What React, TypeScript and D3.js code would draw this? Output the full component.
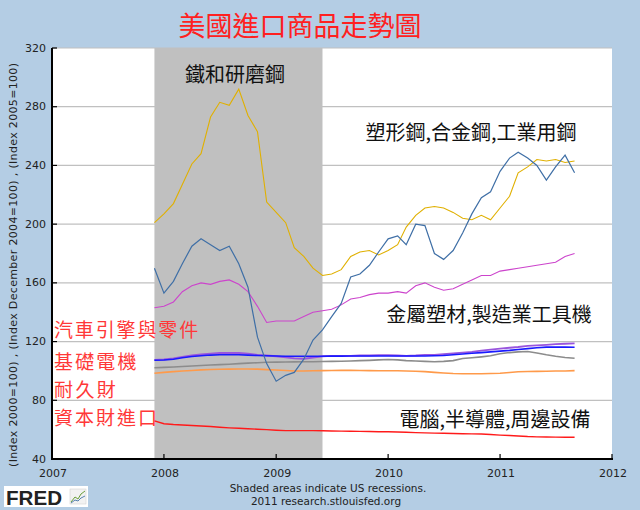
import React from "react";
import * as d3 from "d3";

// monthly observations, Dec 2007 .. Sep 2011
const startMonth = new Date(2007, 11, 1);
const endMonth = new Date(2011, 9, 1);

const ironSteel = [201,207,214,227,241,248,273,283,281,292,274,263,215,208,201,184,178,170,165,166,169,178,181,182,179,182,186,198,206,211,212,211,208,204,203,206,203,211,219,235,239,244,243,244,242,243];
const alloySteel = [170,153,161,173,185,190,186,182,185,173,157,123,105,93,97,99,108,121,128,137,146,164,166,172,181,190,192,186,200,199,180,176,182,194,207,218,222,236,245,249,245,240,230,239,247,235];
const metalTools = [143,144,147,154,158,160,159,161,162,159,154,144,133,134,134,134,137,140,141,142,145,149,150,152,153,153,154,153,158,160,157,155,156,159,162,165,165,168,169,170,171,172,173,174,178,180];
const autoParts = [107.5,107.8,108.5,109.5,110.5,111.2,111.8,112.2,112.3,112.2,111.8,111,110.5,110,109.2,108.5,108.3,109,110,110.3,110.3,110.3,110.5,110.5,110.8,110.8,110.5,110.3,110.5,111,111,111.5,112,112.5,113,113.8,114.5,115.2,115.8,116.3,117,117.4,117.8,118.2,118.5,118.8];
const electrical = [107.3,107.4,108,109,109.8,110.3,110.8,111,111,111,110.8,110.5,110.3,110.2,110,110,110,110,110,110.1,110.1,110.2,110.2,110.2,110.2,110.2,110.2,110.2,110.2,110.2,110.3,110.5,111,111.5,112,112.5,113,113.5,114,114.6,115.2,115.8,116.2,116.3,116.2,116.1];
const durables = [102.2,102.4,102.7,103,103.4,103.7,104,104.3,104.6,105,105.3,105.6,105.9,106,106.1,106.2,106.3,106.3,106.4,106.5,106.6,106.8,107,107.2,107.5,107.8,107.5,107,106.8,106.5,106.3,106.5,107,108.5,109,109.6,110.3,111.7,112.5,113,113.2,112.2,111,110,109.2,108.6];
const capitalGoods = [98.4,99,99.5,100,100.3,100.7,101,101.1,101.2,101.3,101.3,101.2,100.9,100.6,100.3,100,100,100.1,100.2,100.3,100.4,100.4,100.3,100.2,100.1,100.1,100.1,100,99.8,99.5,99,98.6,98.2,98.1,98.1,98.1,98.2,98.4,98.9,99.4,99.6,99.7,99.8,99.9,100,100.2];
const computers = [66,64,63.5,63.2,62.8,62.5,62.1,61.6,61.2,60.9,60.6,60.3,60,59.6,59.3,59.3,59.3,59.3,59.2,59.1,59,58.9,58.8,58.7,58.6,58.6,58.4,58.2,58,57.8,57.6,57.5,57.4,57.2,57.1,57,56.7,56.3,56,55.7,55.3,55.1,55,54.9,54.8,54.8];

const yTicks = [40, 80, 120, 160, 200, 240, 280, 320];
const xYears = [2007, 2008, 2009, 2010, 2011, 2012];
const recession = [new Date(2007, 11, 1), new Date(2009, 5, 1)];

const series = [
  { values: capitalGoods, color: "#ff9a4a", width: 1.6 },
  { values: durables, color: "#8c8c8c", width: 1.6 },
  { values: autoParts, color: "#9955dd", width: 1.8 },
  { values: electrical, color: "#1a1aff", width: 1.6 },
  { values: computers, color: "#ff1a1a", width: 1.4 },
  { values: metalTools, color: "#cc44cc", width: 1.1 },
  { values: ironSteel, color: "#e0b000", width: 1.1 },
  { values: alloySteel, color: "#3f6fa6", width: 1.2 },
];

const redLabels = [
  { text: "汽車引擎與零件", y: 328 },
  { text: "基礎電機", y: 360 },
  { text: "耐久財", y: 388 },
  { text: "資本財進口", y: 416 },
];

const blackLabels = [
  { text: "鐵和研磨鋼", x: 235, y: 73 },
  { text: "塑形鋼,合金鋼,工業用鋼", x: 471, y: 131 },
  { text: "金屬塑材,製造業工具機", x: 489, y: 313 },
  { text: "電腦,半導體,周邊設備", x: 495, y: 418 },
];

export default function App() {
  const width = 640,
    height = 510;
  const left = 52,
    right = 612,
    top = 48,
    bottom = 459;

  const months = d3.timeMonth.range(startMonth, endMonth);
  const x = d3
    .scaleTime()
    .domain([new Date(2007, 0, 1), new Date(2012, 0, 1)])
    .range([left, right]);
  const y = d3.scaleLinear().domain([40, 320]).range([bottom, top]);

  const line = d3
    .line<number>()
    .x((_, i) => x(months[i]))
    .y((d) => y(d));

  const tickFont = "'DejaVu Sans', Verdana, sans-serif";
  const cjk = "'Noto Sans CJK TC', 'Noto Sans CJK SC', sans-serif";

  return (
    <svg
      width={width}
      height={height}
      style={{ position: "absolute", left: 0, top: 0, display: "block" }}
    >
      <rect x={0} y={0} width={width} height={height} fill="#b4cde4" />
      <rect x={left} y={top} width={right - left} height={bottom - top} fill="#ffffff" />

      {/* gridlines */}
      {yTicks.map((t) => (
        <line key={t} x1={left} x2={right} y1={y(t)} y2={y(t)} stroke="#c0c0c0" strokeWidth={1.2} />
      ))}

      {/* recession shading */}
      <rect
        x={x(recession[0])}
        y={top}
        width={x(recession[1]) - x(recession[0])}
        height={bottom - top}
        fill="#c0c0c0"
      />

      {/* title */}
      <text x={300} y={24} fill="#ff2020" fontFamily={cjk} fontSize={27} textAnchor="middle" dominantBaseline="central">
        美國進口商品走勢圖
      </text>

      {/* series */}
      {series.map((s, i) => (
        <path key={i} d={line(s.values) || ""} fill="none" stroke={s.color} strokeWidth={s.width} />
      ))}

      {/* axes */}
      <line x1={left} x2={left} y1={top} y2={bottom + 1} stroke="#000" strokeWidth={2} />
      <line x1={left - 1} x2={right + 1} y1={bottom} y2={bottom} stroke="#000" strokeWidth={2} />
      {yTicks.map((t) => (
        <g key={t}>
          <line x1={left} x2={left + 5} y1={y(t)} y2={y(t)} stroke="#000" strokeWidth={1.2} />
          <text x={left - 6} y={y(t)} textAnchor="end" dominantBaseline="central" fontFamily={tickFont} fontSize={11} fill="#222">
            {t}
          </text>
        </g>
      ))}
      {xYears.map((yr) => {
        const px = x(new Date(yr, 0, 1));
        return (
          <g key={yr}>
            <line x1={px} x2={px} y1={bottom} y2={bottom - 5} stroke="#000" strokeWidth={1.2} />
            <text x={px + 1} y={477} textAnchor="middle" fontFamily={tickFont} fontSize={11} fill="#222">
              {yr}
            </text>
          </g>
        );
      })}

      {/* y axis title */}
      <text
        transform={`translate(17,265) rotate(-90)`}
        textAnchor="middle"
        fontFamily={tickFont}
        fontSize={11}
        fill="#222"
        textLength={404}
        lengthAdjust="spacing"
      >
        (Index 2000=100) , (Index December 2004=100) , (Index 2005=100)
      </text>

      {/* annotations */}
      {blackLabels.map((l) => (
        <text key={l.text} x={l.x} y={l.y} textAnchor="middle" dominantBaseline="central" fontFamily={cjk} fontSize={20} fill="#111">
          {l.text}
        </text>
      ))}
      {redLabels.map((l) => (
        <text
          key={l.text}
          x={54}
          y={l.y}
          dominantBaseline="central"
          fontFamily={cjk}
          fontSize={19}
          fill="#ff3838"
          textLength={l.text.length * 20.6}
          lengthAdjust="spacing"
        >
          {l.text}
        </text>
      ))}

      {/* footer */}
      <text x={328} y={492} textAnchor="middle" fontFamily={tickFont} fontSize={10.5} fill="#222">
        Shaded areas indicate US recessions.
      </text>
      <text x={326} y={505} textAnchor="middle" fontFamily={tickFont} fontSize={10.5} fill="#222">
        2011 research.stlouisfed.org
      </text>

      {/* FRED logo */}
      <rect x={4} y={486} width={84} height={21} fill="#ffffff" />
      <text x={6} y={505} fontFamily="'Liberation Sans', Arial, sans-serif" fontWeight="bold" fontSize={21} fill="#222" textLength={56} lengthAdjust="spacingAndGlyphs">
        FRED
      </text>
      <rect x={70} y={489} width={16} height={15} fill="#f2f2f2" stroke="#ccc" strokeWidth={0.5} />
      <polyline points="71,502 75,497 78,499 81,494 85,491" fill="none" stroke="#6a9e3a" strokeWidth={1} />
      <polyline points="71,503 75,500 78,501 81,498 85,496" fill="none" stroke="#5580b0" strokeWidth={1} />
    </svg>
  );
}
